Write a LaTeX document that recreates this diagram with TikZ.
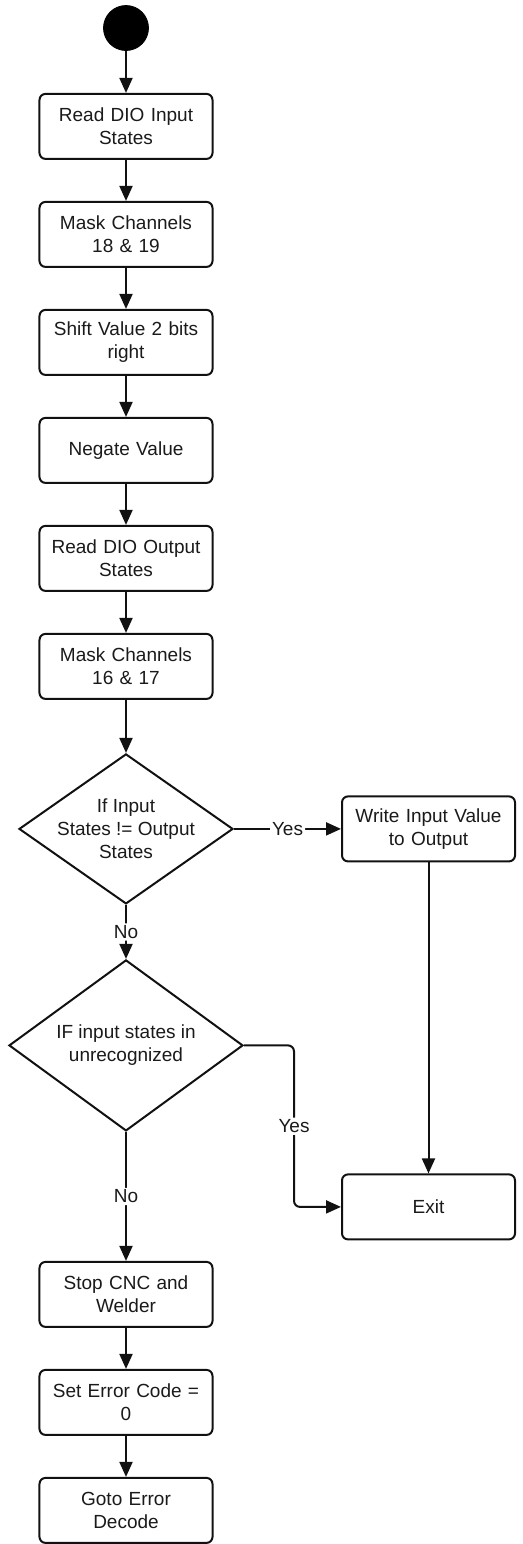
\documentclass[tikz,border=0pt]{standalone}
\usepackage{fontspec}
\setmainfont{Liberation Sans}
\usetikzlibrary{
  arrows.meta,
  positioning,
  shapes.geometric
}
\definecolor{ink}{HTML}{111111}
\definecolor{txt}{HTML}{1A1A1A}

\begin{document}
\begin{tikzpicture}[
  font=\fontsize{9.5}{11.5}\selectfont,
  node distance=20.5pt,
  startdot/.style={
    circle,
    fill=black,
    draw=black,
    minimum size=22.5pt,
    inner sep=0pt
  },
  stepbox/.style={
    draw=ink,
    line width=1pt,
    rounded corners=3pt,
    fill=white,
    minimum width=86.5pt,
    minimum height=32.5pt,
    text width=82pt,
    inner sep=0pt,
    align=center,
    text=txt
  },
  decision/.style={
    diamond,
    draw=ink,
    line width=1pt,
    fill=white,
    inner sep=0pt,
    text=txt
  },
  flow/.style={
    -{Triangle[length=7.5pt,width=6.5pt]},
    line width=1pt,
    draw=ink,
    rounded corners=3pt
  },
  choice/.style={
    fill=white,
    inner sep=1pt,
    text=txt
  }
]
\useasboundingbox (-63pt,14pt) rectangle (198.5pt,-758pt);

% Main column
\node[startdot] (start) at (0,0) {};
\node[stepbox, below=21pt of start] (readin) {Read DIO Input\\States};
\node[stepbox, below=of readin] (maskin) {Mask Channels\\18 \& 19};
\node[stepbox, below=of maskin] (shift) {Shift Value 2 bits\\right};
\node[stepbox, below=of shift] (negate) {Negate Value};
\node[stepbox, below=of negate] (readout) {Read DIO Output\\States};
\node[stepbox, below=of readout] (maskout) {Mask Channels\\16 \& 17};

% Decisions
\node[decision, minimum width=107pt, minimum height=75pt, below=26.5pt of maskout,
  label={[align=center, text=txt]center:If Input\\States != Output\\States}] (differ) {};
\node[decision, minimum width=117pt, minimum height=85.5pt, below=27pt of differ,
  label={[align=center, text=txt]center:IF input states in\\unrecognized}] (unknown) {};

% Right column
\node[stepbox, right=53.5pt of differ] (write) {Write Input Value\\to Output};
\node[stepbox, below=155.5pt of write] (exit) {Exit};

% Error branch
\node[stepbox, below=64.5pt of unknown] (stop) {Stop CNC and\\Welder};
\node[stepbox, below=of stop] (seterr) {Set Error Code =\\0};
\node[stepbox, below=of seterr] (gotoerr) {Goto Error\\Decode};

% Flow
\draw[flow] (start) -- (readin);
\draw[flow] (readin) -- (maskin);
\draw[flow] (maskin) -- (shift);
\draw[flow] (shift) -- (negate);
\draw[flow] (negate) -- (readout);
\draw[flow] (readout) -- (maskout);
\draw[flow] (maskout) -- (differ);
\draw[flow] (differ) -- node[choice] {Yes} (write);
\draw[flow] (differ) -- node[choice] {No} (unknown);
\draw[flow] (write) -- (exit);
\draw[flow] (unknown.east) -- ++(25pt,0) |- node[pos=0.25, choice] {Yes} (exit.west);
\draw[flow] (unknown) -- node[choice] {No} (stop);
\draw[flow] (stop) -- (seterr);
\draw[flow] (seterr) -- (gotoerr);

\end{tikzpicture}
\end{document}
